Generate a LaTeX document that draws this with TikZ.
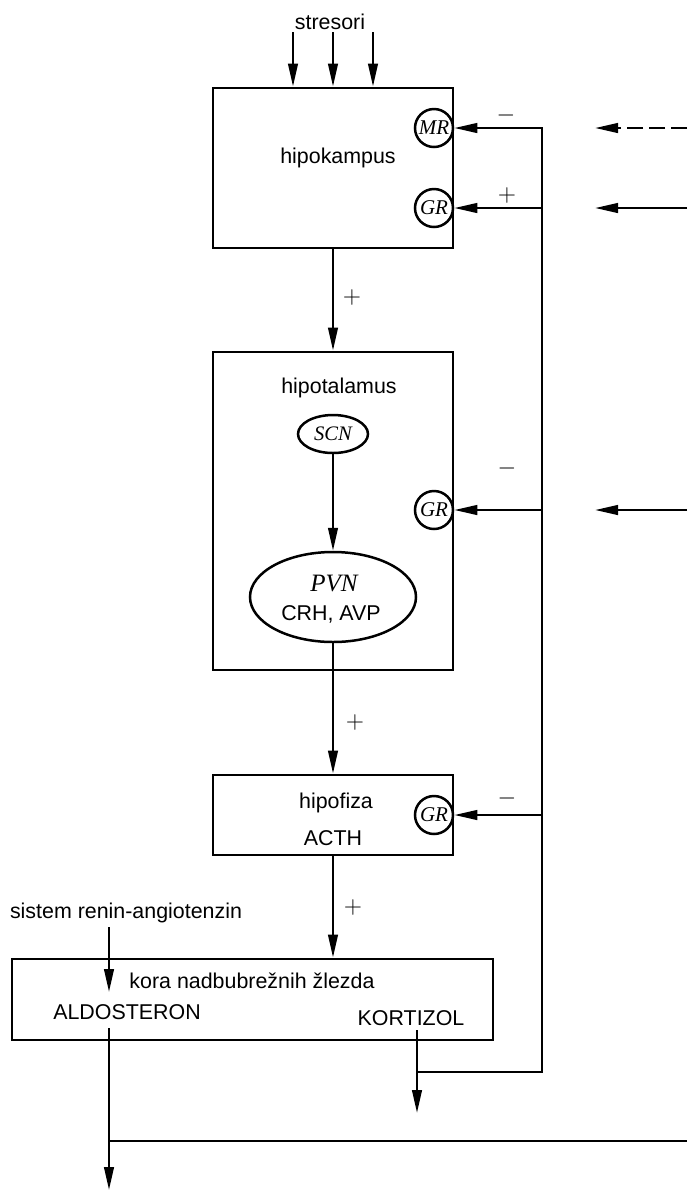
\documentclass[tikz,border=0pt]{standalone}
\usepackage{fontspec}
\setmainfont{Liberation Sans}
\newfontfamily\recfont{Liberation Serif}
\usetikzlibrary{arrows.meta, shapes.geometric}

\tikzset{
  blok/.style = {draw, line width=1.45pt, inner sep=0pt, minimum width=120pt},
  receptor/.style = {draw, circle, line width=1.25pt, inner sep=0pt, minimum size=19pt,
    font=\fontsize{10.5}{12}\recfont\itshape},
  jezgro/.style = {draw, ellipse, line width=1.25pt, inner sep=0pt},
  strelica/.style = {-{Triangle[length=11.5pt, width=4.8pt]}, line width=1.2pt},
  veza/.style = {line width=1.2pt},
  natpis/.style = {font=\fontsize{10.7}{13}\selectfont, inner sep=0pt},
  znak/.style = {font=\fontsize{12.5}{14}\selectfont, inner sep=0pt}
}

\begin{document}
\begin{tikzpicture}[x=0.5pt, y=-0.5pt]
\useasboundingbox ( 0, 0 ) rectangle ( 687, 1191 );

% Blocks
\node (hipokampus) at ( 333, 168 ) [blok, minimum height=80pt] {};
\node (hipotalamus) at ( 333, 511 ) [blok, minimum height=159pt] {};
\node (hipofiza) at ( 333, 815 ) [blok, minimum height=40pt] {};
\node (kora) at ( 252.5, 999.5 ) [blok, minimum width=240.5pt, minimum height=40.5pt] {};

% Receptors
\node (mr) at ( 434, 128 ) [receptor] {MR};
\node (grHipokampus) at ( 434, 208 ) [receptor] {GR};
\node (grHipotalamus) at ( 434, 510 ) [receptor] {GR};
\node (grHipofiza) at ( 434, 815 ) [receptor] {GR};

% Nuclei
\node (scn) at ( 333, 434 ) [jezgro, minimum width=35pt, minimum height=19pt,
  font=\fontsize{10.3}{12}\recfont\itshape] {SCN};
\node (pvn) at ( 333, 597 ) [jezgro, minimum width=83pt, minimum height=45pt] {};

% Labels
\node (tStresori) at ( 330, 22 ) [natpis] {stresori};
\node (tHipokampus) at ( 338, 158 ) [natpis] {hipokampus};
\node (tHipotalamus) at ( 339, 388 ) [natpis] {hipotalamus};
\node (tPvn) at ( 334, 583 ) [inner sep=0pt, font=\fontsize{12.5}{14}\recfont\itshape] {PVN};
\node (tCrh) at ( 331, 614 ) [natpis] {CRH, AVP};
\node (tHipofiza) at ( 336, 803 ) [natpis] {hipofiza};
\node (tActh) at ( 333, 838 ) [natpis] {ACTH};
\node (tSistem) at ( 126, 913 ) [natpis] {sistem renin-angiotenzin};
\node (tKora) at ( 252, 981 ) [natpis] {kora nadbubrežnih žlezda};
\node (tAldosteron) at ( 127, 1012 ) [natpis] {ALDOSTERON};
\node (tKortizol) at ( 411, 1018 ) [natpis] {KORTIZOL};

% Signs
\node (z1) at ( 352, 297 ) [znak] {$+$};
\node (z2) at ( 506, 115 ) [znak] {$-$};
\node (z3) at ( 507, 195 ) [znak] {$+$};
\node (z4) at ( 507, 468 ) [znak] {$-$};
\node (z5) at ( 355, 722 ) [znak] {$+$};
\node (z6) at ( 507, 798 ) [znak] {$-$};
\node (z7) at ( 353, 907 ) [znak] {$+$};

% Stressors
\coordinate (s1) at ( 293, 32 );
\coordinate (s2) at ( 333, 32 );
\coordinate (s3) at ( 373, 32 );
\draw [strelica] (s1) -- (s1 |- hipokampus.north);
\draw [strelica] (s2) -- (s2 |- hipokampus.north);
\draw [strelica] (s3) -- (s3 |- hipokampus.north);

% Main axis
\draw [strelica] (hipokampus) -- (hipotalamus);
\draw [strelica] (scn) -- (pvn);
\draw [strelica] (pvn) -- (hipofiza);
\draw [strelica] (hipofiza.south) -- (hipofiza.south |- kora.north);

% Renin-angiotensin and aldosterone
\coordinate (raUlaz) at ( 109, 927 );
\coordinate (raKraj) at ( 109, 992 );
\draw [strelica] (raUlaz) -- (raKraj);
\coordinate (aldoIzlaz) at ( 109, 1028 );
\coordinate (aldoKraj) at ( 109, 1190 );
\coordinate (desno) at ( 687, 1141 );
\draw [strelica] (aldoIzlaz) -- (aldoKraj);
\draw [veza] (aldoIzlaz |- desno) -- (desno);

% Cortisol feedback
\coordinate (kortIzlaz) at ( 417, 1030 );
\coordinate (kortKraj) at ( 417, 1113 );
\coordinate (petlja) at ( 542, 1072 );
\draw [strelica] (kortIzlaz) -- (kortKraj);
\draw [strelica] (kortIzlaz |- petlja) -- (petlja) -- (petlja |- mr) -- (mr);
\draw [strelica] (petlja |- grHipokampus) -- (grHipokampus);
\draw [strelica] (petlja |- grHipotalamus) -- (grHipotalamus);
\draw [strelica] (petlja |- grHipofiza) -- (grHipofiza);

% Inputs from the right
\coordinate (u1) at ( 687, 128 );
\coordinate (u2) at ( 687, 208 );
\coordinate (u3) at ( 687, 510 );
\coordinate (k1) at ( 595, 128 );
\coordinate (k2) at ( 595, 208 );
\coordinate (k3) at ( 595, 510 );
\draw [strelica, dash pattern=on 8pt off 3pt] (u1) -- (k1);
\draw [strelica] (u2) -- (k2);
\draw [strelica] (u3) -- (k3);

\end{tikzpicture}
\end{document}
